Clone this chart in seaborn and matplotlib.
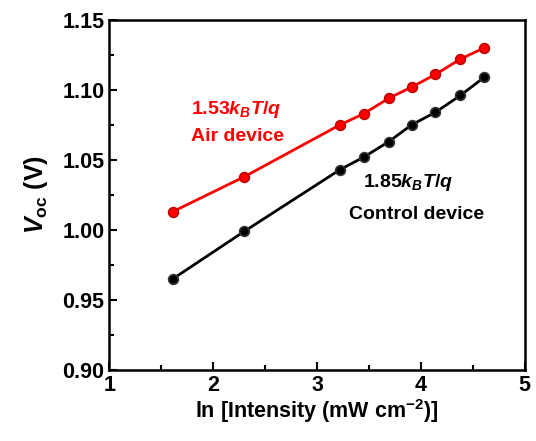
import matplotlib
matplotlib.use("Agg")
import matplotlib.pyplot as plt
import seaborn as sns
import pandas as pd
from matplotlib.ticker import MultipleLocator, FormatStrFormatter

# ln of light intensity (5 ... 100 mW cm-2)
ln_intensity = [1.61, 2.30, 3.22, 3.45, 3.69, 3.91, 4.14, 4.38, 4.61]
voc_air = [1.013, 1.038, 1.075, 1.083, 1.094, 1.102, 1.111, 1.122, 1.130]
voc_control = [0.965, 0.999, 1.043, 1.052, 1.063, 1.075, 1.084, 1.096, 1.109]

df = pd.DataFrame({
    "x": ln_intensity * 2,
    "voc": voc_air + voc_control,
    "device": ["Air"] * len(voc_air) + ["Control"] * len(voc_control),
})

sns.set_style("ticks", rc={
    "xtick.direction": "in", "ytick.direction": "in",
    "text.color": "black", "axes.labelcolor": "black",
    "xtick.color": "black", "ytick.color": "black",
    "axes.edgecolor": "black",
})
plt.rcParams["font.family"] = ["Liberation Sans", "DejaVu Sans"]
plt.rcParams["font.weight"] = "bold"
plt.rcParams["mathtext.fontset"] = "custom"
plt.rcParams["mathtext.rm"] = "Liberation Sans:bold"
plt.rcParams["mathtext.it"] = "Liberation Sans:bold:italic"
plt.rcParams["mathtext.bf"] = "Liberation Sans:bold"

fig = plt.figure(figsize=(5.36, 4.41), dpi=100)
ax = fig.add_axes([0.204, 0.161, 0.775, 0.794])

colors = {"Air": "#ff0000", "Control": "#000000"}
edges = {"Air": "#c00000", "Control": "#333333"}
for dev, sub in df.groupby("device"):
    sns.lineplot(data=sub, x="x", y="voc", ax=ax, color=colors[dev], lw=2,
                 marker="o", markersize=7, markeredgecolor=edges[dev],
                 markeredgewidth=1.2)

ax.set_xlim(1, 5)
ax.set_ylim(0.90, 1.15)
ax.xaxis.set_major_locator(MultipleLocator(1))
ax.xaxis.set_minor_locator(MultipleLocator(0.5))
ax.yaxis.set_major_locator(MultipleLocator(0.05))
ax.yaxis.set_minor_locator(MultipleLocator(0.025))
ax.yaxis.set_major_formatter(FormatStrFormatter("%.2f"))
ax.tick_params(which="both", direction="in", width=1.5, labelsize=15.5,
               colors="black")
ax.tick_params(which="major", length=6)
ax.tick_params(which="minor", length=3.5)
for s in ax.spines.values():
    s.set_linewidth(1.8)
    s.set_visible(True)
    s.set_color("black")

ax.set_xlabel("ln [Intensity (mW cm$^{\\mathregular{-2}}$)]", fontsize=15.5,
              fontweight="bold", labelpad=1)
ax.set_ylabel("$\\mathit{V}_{\\mathregular{oc}}$ (V)", fontsize=18,
              fontweight="bold", labelpad=9)

ax.text(1.79, 1.0857, "1.53$\\mathit{k}_{\\mathit{B}}\\mathit{T/q}$",
        color="#ff0000", fontsize=14, fontweight="bold", va="center")
ax.text(1.79, 1.0664, "Air device", color="#ff0000", fontsize=14,
        fontweight="bold", va="center")
ax.text(3.44, 1.0336, "1.85$\\mathit{k}_{\\mathit{B}}\\mathit{T/q}$",
        color="black", fontsize=14, fontweight="bold", va="center")
ax.text(3.31, 1.0107, "Control device", color="black", fontsize=14,
        fontweight="bold", va="center")

fig.savefig("out.png", dpi=100)
